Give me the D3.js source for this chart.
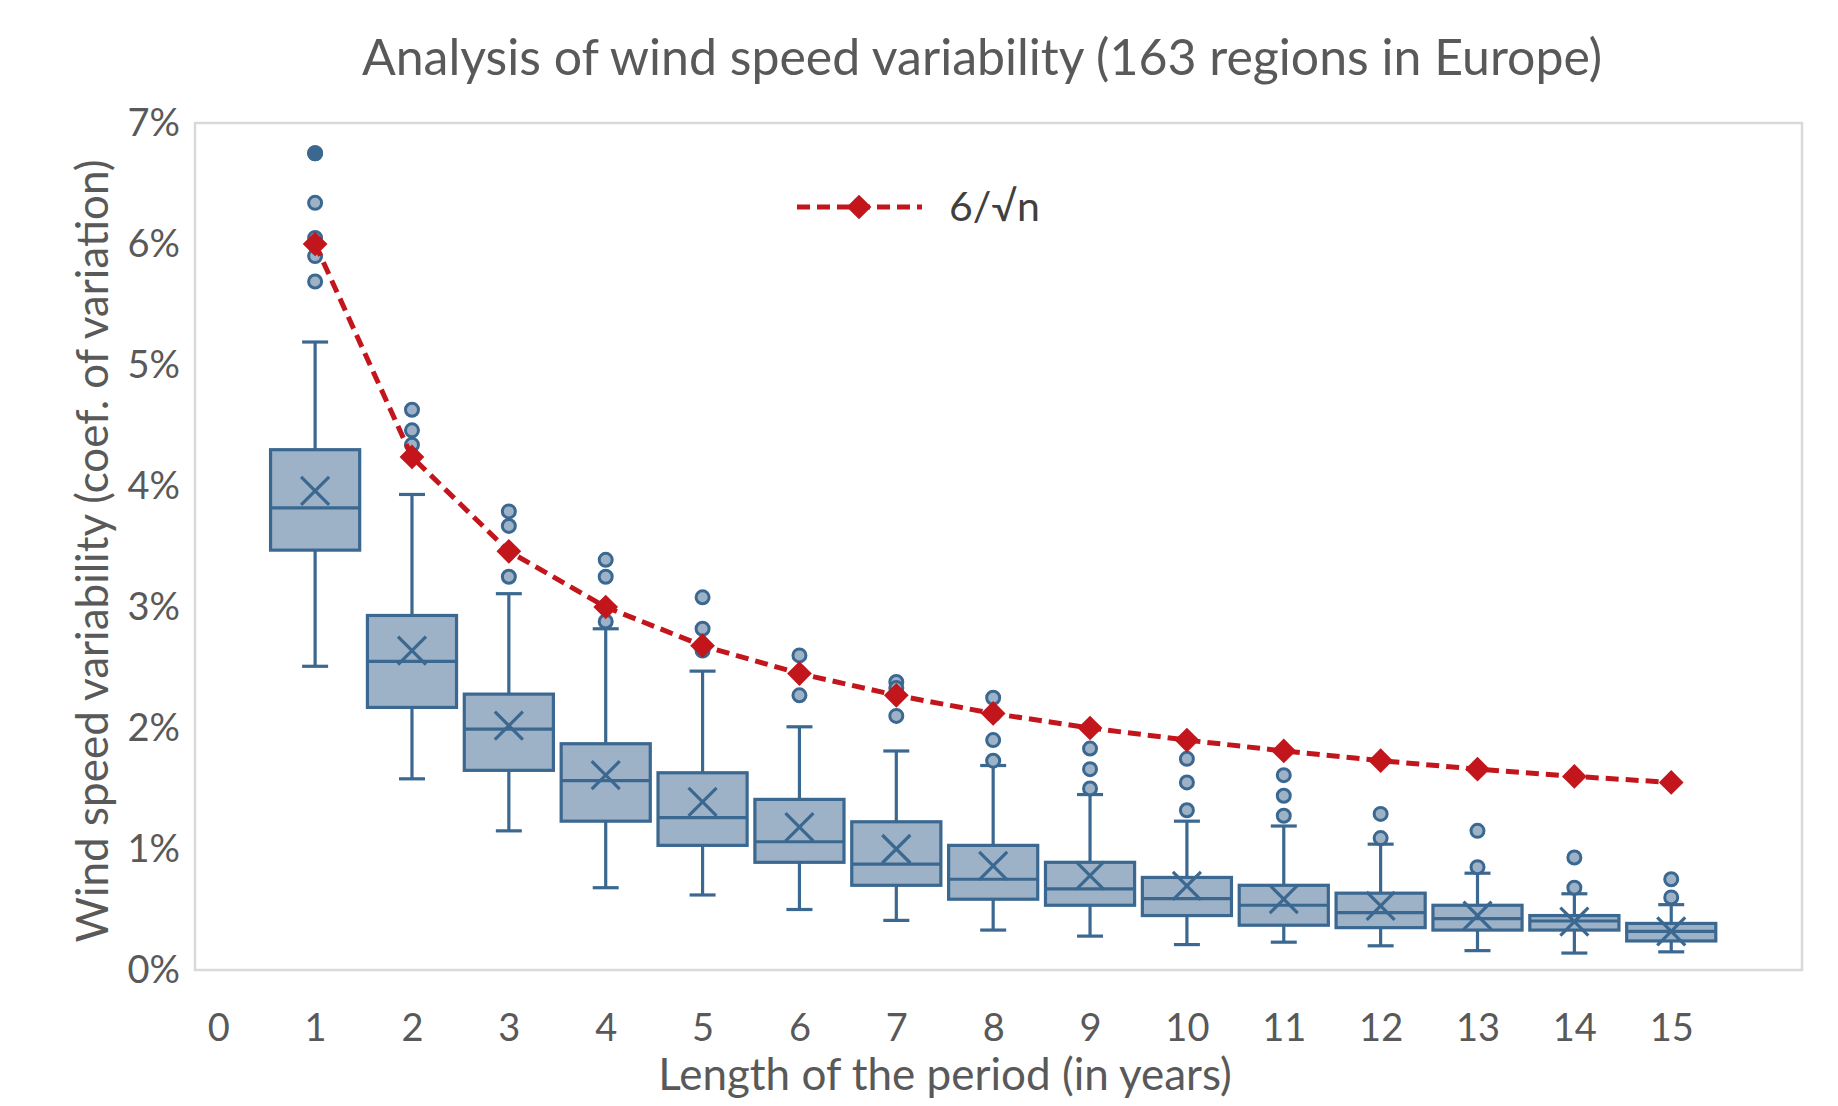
<!DOCTYPE html>
<html>
<head>
<meta charset="utf-8">
<script src="https://cdn.jsdelivr.net/npm/d3@7"></script>
<style>
  body { margin: 0; background: #fff; }
</style>
</head>
<body>
<div id="chart"></div>
<script>
// ---- data (coef. of variation, in %) ----
var periods = [1, 2, 3, 4, 5, 6, 7, 8, 9, 10, 11, 12, 13, 14, 15];
var whiskerLow = [2.51, 1.58, 1.15, 0.68, 0.62, 0.50, 0.41, 0.33, 0.28, 0.21, 0.23, 0.20, 0.16, 0.14, 0.15];
var q1 = [3.47, 2.17, 1.65, 1.23, 1.03, 0.89, 0.70, 0.585, 0.535, 0.45, 0.37, 0.35, 0.33, 0.33, 0.24];
var medians = [3.82, 2.55, 1.99, 1.565, 1.26, 1.06, 0.875, 0.75, 0.67, 0.59, 0.535, 0.475, 0.425, 0.405, 0.32];
var q3 = [4.30, 2.93, 2.28, 1.87, 1.63, 1.41, 1.225, 1.03, 0.89, 0.765, 0.70, 0.635, 0.535, 0.45, 0.385];
var whiskerHigh = [5.19, 3.93, 3.11, 2.82, 2.47, 2.01, 1.81, 1.69, 1.45, 1.23, 1.19, 1.04, 0.80, 0.63, 0.54];
var means = [3.96, 2.64, 2.02, 1.61, 1.39, 1.18, 1.00, 0.86, 0.78, 0.695, 0.585, 0.53, 0.45, 0.40, 0.32];
var outliers = [
    [6.75, 6.75, 6.34, 6.05, 6.0, 5.90, 5.69],
    [4.63, 4.46, 4.34],
    [3.79, 3.67, 3.25],
    [3.39, 3.25, 2.88],
    [3.08, 2.82, 2.64],
    [2.60, 2.27],
    [2.38, 2.33, 2.10],
    [2.25, 2.11, 1.90, 1.73],
    [1.83, 1.66, 1.50],
    [1.745, 1.55, 1.32],
    [1.61, 1.44, 1.275],
    [1.29, 1.09],
    [1.15, 0.85],
    [0.93, 0.68],
    [0.75, 0.60]
];
// reference curve 6/sqrt(n)
var refValues = [6.00, 4.24, 3.46, 3.00, 2.68, 2.45, 2.27, 2.12, 2.00, 1.90, 1.81, 1.73, 1.66, 1.60, 1.55];
var xTicks = [0, 1, 2, 3, 4, 5, 6, 7, 8, 9, 10, 11, 12, 13, 14, 15];
var yTicks = [0, 1, 2, 3, 4, 5, 6, 7];

var chartTitle = 'Analysis of wind speed variability (163 regions in Europe)';
var xTitle = 'Length of the period (in years)';
var yTitle = 'Wind speed variability (coef. of variation)';
var legendLabel = '6/\u221An';

function getChart() {
    var attrs = {
        svgWidth: 1838,
        svgHeight: 1106,
        plotLeft: 195,
        plotRight: 1802,
        plotTop: 123,
        plotBottom: 970,
        font: 'Lato, "Open Sans", sans-serif',
        textColor: '#595959',
        boxFill: '#9db2c6',
        boxStroke: '#3b6890',
        refColor: '#c3161c',
        frameColor: '#d9d9d9'
    };

    var svg = d3.select('#chart').append('svg')
        .attr('width', attrs.svgWidth)
        .attr('height', attrs.svgHeight)
        .attr('font-family', attrs.font)
        .style('background-color', '#fff');

    // scales
    var x = d3.scaleLinear().domain([-0.24, 16.35]).range([attrs.plotLeft, attrs.plotRight]);
    var y = d3.scaleLinear().domain([0, 7]).range([attrs.plotBottom, attrs.plotTop]);
    var step = x(1) - x(0);
    var boxW = step * 0.92;
    var capW = 26;

    // plot frame
    svg.append('rect')
        .attr('x', attrs.plotLeft)
        .attr('y', y(7))
        .attr('width', attrs.plotRight - attrs.plotLeft)
        .attr('height', y(0) - y(7))
        .attr('fill', 'none')
        .attr('stroke', attrs.frameColor)
        .attr('stroke-width', 2.5);

    // title
    svg.append('text')
        .attr('x', 982)
        .attr('y', 75)
        .attr('text-anchor', 'middle')
        .attr('font-size', 50)
        .attr('fill', attrs.textColor)
        .text(chartTitle);

    // y axis (labels only)
    var yAxis = d3.axisLeft(y).tickValues(yTicks).tickSize(0).tickPadding(0)
        .tickFormat(function (d) { return d + '%'; });
    var yg = svg.append('g').attr('transform', 'translate(180,0)').call(yAxis);
    yg.select('.domain').remove();
    yg.selectAll('text').attr('font-size', 38).attr('fill', attrs.textColor)
        .attr('font-family', attrs.font);

    // x axis (labels only)
    var xAxis = d3.axisBottom(x).tickValues(xTicks).tickSize(0).tickPadding(0);
    var xg = svg.append('g').attr('transform', 'translate(0,1014)').call(xAxis);
    xg.select('.domain').remove();
    xg.selectAll('text').attr('font-size', 38).attr('fill', attrs.textColor)
        .attr('font-family', attrs.font);

    // axis titles
    svg.append('text')
        .attr('x', 945)
        .attr('y', 1090)
        .attr('text-anchor', 'middle')
        .attr('font-size', 44)
        .attr('fill', attrs.textColor)
        .text(xTitle);

    svg.append('text')
        .attr('transform', 'translate(108,551) rotate(-90)')
        .attr('text-anchor', 'middle')
        .attr('font-size', 44)
        .attr('fill', attrs.textColor)
        .text(yTitle);

    // boxes
    var boxData = periods.map(function (p, i) {
        return {
            n: p, lo: whiskerLow[i], q1: q1[i], med: medians[i], q3: q3[i],
            hi: whiskerHigh[i], mean: means[i], out: outliers[i]
        };
    });

    var boxes = svg.append('g').attr('class', 'boxes')
        .selectAll('g').data(boxData).enter().append('g')
        .attr('stroke', attrs.boxStroke)
        .attr('stroke-width', 3.2);

    // whiskers
    boxes.append('line')
        .attr('x1', d => x(d.n)).attr('x2', d => x(d.n))
        .attr('y1', d => y(d.hi)).attr('y2', d => y(d.q3));
    boxes.append('line')
        .attr('x1', d => x(d.n)).attr('x2', d => x(d.n))
        .attr('y1', d => y(d.q1)).attr('y2', d => y(d.lo));
    boxes.append('line')
        .attr('x1', d => x(d.n) - capW / 2).attr('x2', d => x(d.n) + capW / 2)
        .attr('y1', d => y(d.hi)).attr('y2', d => y(d.hi));
    boxes.append('line')
        .attr('x1', d => x(d.n) - capW / 2).attr('x2', d => x(d.n) + capW / 2)
        .attr('y1', d => y(d.lo)).attr('y2', d => y(d.lo));

    // box
    boxes.append('rect')
        .attr('x', d => x(d.n) - boxW / 2)
        .attr('width', boxW)
        .attr('y', d => y(d.q3))
        .attr('height', d => y(d.q1) - y(d.q3))
        .attr('fill', attrs.boxFill);

    // median
    boxes.append('line')
        .attr('x1', d => x(d.n) - boxW / 2).attr('x2', d => x(d.n) + boxW / 2)
        .attr('y1', d => y(d.med)).attr('y2', d => y(d.med));

    // mean marker (X)
    var mh = 14;
    boxes.append('path')
        .attr('fill', 'none')
        .attr('d', function (d) {
            var cx = x(d.n), cy = y(d.mean);
            return 'M' + (cx - mh) + ',' + (cy - mh) + 'L' + (cx + mh) + ',' + (cy + mh) +
                'M' + (cx - mh) + ',' + (cy + mh) + 'L' + (cx + mh) + ',' + (cy - mh);
        });

    // outliers
    boxes.selectAll('circle')
        .data(function (d) {
            return d.out.map(function (v) {
                var dup = d.out.filter(function (w) { return w === v; }).length > 1;
                return { n: d.n, v: v, dup: dup };
            });
        })
        .enter().append('circle')
        .attr('cx', d => x(d.n))
        .attr('cy', d => y(d.v))
        .attr('r', 6.5)
        .attr('stroke-width', 3)
        .attr('fill', d => d.dup ? attrs.boxStroke : attrs.boxFill);

    // reference curve
    var refData = periods.map(function (p, i) { return { n: p, v: refValues[i] }; });
    var line = d3.line().x(d => x(d.n)).y(d => y(d.v));
    svg.append('path')
        .datum(refData)
        .attr('d', line)
        .attr('fill', 'none')
        .attr('stroke', attrs.refColor)
        .attr('stroke-width', 5)
        .attr('stroke-dasharray', '13,7');

    var diamond = d3.symbol().type(d3.symbolDiamond2).size(390);
    svg.append('g').selectAll('path').data(refData).enter().append('path')
        .attr('transform', d => 'translate(' + x(d.n) + ',' + y(d.v) + ')')
        .attr('d', diamond)
        .attr('fill', attrs.refColor);

    // legend
    var lg = svg.append('g').attr('transform', 'translate(797,207)');
    lg.append('line')
        .attr('x1', 0).attr('x2', 125).attr('y1', 0).attr('y2', 0)
        .attr('stroke', attrs.refColor)
        .attr('stroke-width', 5)
        .attr('stroke-dasharray', '13,7');
    lg.append('path')
        .attr('transform', 'translate(62,0)')
        .attr('d', diamond)
        .attr('fill', attrs.refColor);
    lg.append('text')
        .attr('x', 152)
        .attr('y', 0)
        .attr('dy', '0.35em')
        .attr('font-size', 41)
        .attr('fill', '#404040')
        .text(legendLabel);
}

getChart();
</script>
</body>
</html>
